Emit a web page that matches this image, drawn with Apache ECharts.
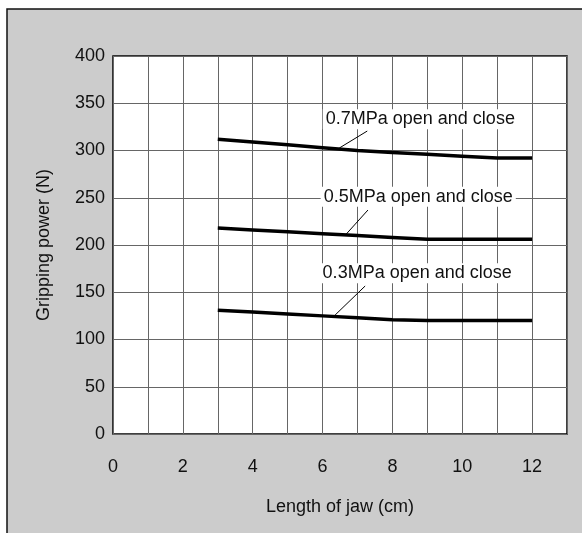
<!DOCTYPE html>
<html>
<head>
<meta charset="utf-8">
<script src="https://cdn.jsdelivr.net/npm/echarts@6/dist/echarts.min.js"></script>
<style>
html,body{margin:0;padding:0;background:#fff;}
#c{width:582px;height:533px;}
</style>
</head>
<body>
<div id="c"></div>
<script>
var jawLength = [3, 4, 5, 6, 7, 8, 9, 10, 11, 12];
var p07 = [312, 309, 306, 303, 300, 298, 296, 294, 292, 292];
var p05 = [218, 216, 214, 212, 210, 208, 206, 206, 206, 206];
var p03 = [131, 129, 127, 125, 123, 121, 120, 120, 120, 120];
var seriesNames = ['0.7MPa open and close', '0.5MPa open and close', '0.3MPa open and close'];
var xTickLabels = [0, 2, 4, 6, 8, 10, 12];
var yTickLabels = [0, 50, 100, 150, 200, 250, 300, 350, 400];
// annotation anchor (label centre) and leader line ends, in data units
var labelAt = [[8.8, 333], [8.74, 251], [8.71, 170]];
var leaderFrom = [[7.28, 320.6], [7.3, 237], [7.22, 156.6]];
var leaderTo = [[6.48, 302.6], [6.68, 211.6], [6.36, 125.9]];

var FONT = '"Liberation Sans", Arial, sans-serif';
var chart = echarts.init(document.getElementById('c'), null, {renderer: 'canvas'});

function mk(vals, i) {
  return {
    type: 'line',
    name: seriesNames[i],
    data: jawLength.map(function (x, k) { return [x, vals[k]]; }),
    symbol: 'none',
    smooth: false,
    lineStyle: {color: '#000', width: 3.5, join: 'round'},
    z: 5,
    markLine: {
      silent: true,
      symbol: 'none',
      label: {show: false},
      lineStyle: {color: '#000', width: 1, type: 'solid'},
      data: [[{coord: leaderFrom[i]}, {coord: leaderTo[i]}]]
    },
    markPoint: {
      silent: true,
      symbol: 'circle',
      symbolSize: 1,
      itemStyle: {color: 'rgba(0,0,0,0)'},
      label: {
        show: true,
        position: 'inside',
        formatter: seriesNames[i],
        color: '#111',
        fontSize: 18,
        fontFamily: FONT,
        backgroundColor: '#fff',
        padding: [1, 3]
      },
      data: [{coord: labelAt[i]}]
    }
  };
}

chart.setOption({
  animation: false,
  backgroundColor: '#fff',
  graphic: {
    elements: [{
      type: 'rect',
      z: -100,
      silent: true,
      shape: {x: 7, y: 9, width: 640, height: 600},
      style: {fill: '#cccccc', stroke: '#111', lineWidth: 1.5}
    }]
  },
  grid: {
    left: 113, top: 56, right: 15, bottom: 99,
    show: true,
    backgroundColor: '#fff',
    borderColor: '#000',
    borderWidth: 1.5
  },
  xAxis: {
    type: 'value',
    min: 0, max: 13, interval: 1,
    name: 'Length of jaw (cm)',
    nameLocation: 'middle',
    nameGap: 64,
    nameTextStyle: {fontSize: 18, fontFamily: FONT, color: '#111'},
    axisLine: {show: false},
    axisTick: {show: false},
    splitLine: {show: true, lineStyle: {color: '#666', width: 1}},
    axisLabel: {
      margin: 24,
      fontSize: 18, fontFamily: FONT, color: '#111',
      formatter: function (v) { return xTickLabels.indexOf(v) >= 0 ? String(v) : ''; }
    }
  },
  yAxis: {
    type: 'value',
    min: 0, max: 400, interval: 50,
    name: 'Gripping power (N)',
    nameLocation: 'middle',
    nameGap: 60,
    nameRotate: 90,
    nameTextStyle: {fontSize: 18, fontFamily: FONT, color: '#111'},
    axisLine: {show: false},
    axisTick: {show: false},
    splitLine: {show: true, lineStyle: {color: '#666', width: 1}},
    axisLabel: {
      margin: 8,
      fontSize: 18, fontFamily: FONT, color: '#111',
      formatter: function (v) { return yTickLabels.indexOf(v) >= 0 ? String(v) : ''; }
    }
  },
  series: [mk(p07, 0), mk(p05, 1), mk(p03, 2)]
});
</script>
</body>
</html>
